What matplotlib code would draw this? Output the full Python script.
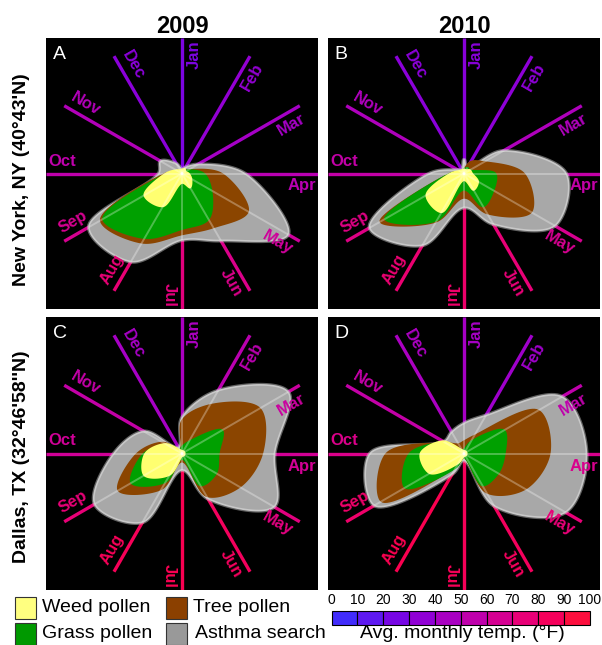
import numpy as np
import matplotlib
matplotlib.use('Agg')
import matplotlib.pyplot as plt
from matplotlib.patches import Polygon, Rectangle
from matplotlib.colors import LinearSegmentedColormap, Normalize

plt.rcParams['font.family'] = ['Liberation Sans', 'DejaVu Sans']

# ---------------- data ----------------
months = ['Jan', 'Feb', 'Mar', 'Apr', 'May', 'Jun', 'Jul', 'Aug', 'Sep', 'Oct', 'Nov', 'Dec']
years = ['2009', '2010']
cities = ["New York, NY (40°43'N)", "Dallas, TX (32°46'58''N)"]
panel_letters = ['A', 'B', 'C', 'D']
series_names = ['Weed pollen', 'Tree pollen', 'Grass pollen', 'Asthma search']
cbar_ticks = [0, 10, 20, 30, 40, 50, 60, 70, 80, 90, 100]
cbar_label = 'Avg. monthly temp. (°F)'

# average monthly temperature (°F), Jan..Dec
temp_A = [27, 36, 43, 52, 62, 68, 73, 76, 66, 55, 49, 33]
temp_B = [32, 34, 48, 57, 66, 75, 80, 77, 70, 57, 48, 33]
temp_C = [46, 53, 60, 64, 72, 84, 88, 86, 75, 63, 57, 44]
temp_D = [44, 41, 55, 67, 75, 84, 86, 89, 80, 68, 57, 46]

# normalized radial values (fraction of spoke length), Jan..Dec
asthma_A = [0.03, 0.05, 0.13, 0.46, 0.90, 0.57, 0.49, 0.75, 0.79, 0.17, 0.18, 0.08]
tree_A   = [0.02, 0.02, 0.05, 0.29, 0.56, 0.46, 0.45, 0.59, 0.69, 0.12, 0.03, 0.02]
grass_A  = [0.02, 0.02, 0.05, 0.16, 0.25, 0.39, 0.41, 0.55, 0.67, 0.10, 0.02, 0.02]
weed_A   = [0.03, 0.04, 0.03, 0.05, 0.08, 0.12, 0.07, 0.28, 0.32, 0.12, 0.05, 0.03]

asthma_B = [0.10, 0.05, 0.33, 0.75, 0.77, 0.43, 0.25, 0.61, 0.80, 0.25, 0.05, 0.03]
tree_B   = [0.03, 0.10, 0.17, 0.44, 0.57, 0.34, 0.18, 0.41, 0.71, 0.10, 0.03, 0.02]
grass_B  = [0.03, 0.05, 0.05, 0.23, 0.25, 0.28, 0.12, 0.40, 0.67, 0.10, 0.03, 0.02]
weed_B   = [0.03, 0.03, 0.05, 0.06, 0.12, 0.14, 0.05, 0.33, 0.32, 0.10, 0.04, 0.03]

asthma_C = [0.26, 0.53, 0.90, 0.68, 0.78, 0.38, 0.12, 0.58, 0.74, 0.50, 0.32, 0.05]
tree_C   = [0.24, 0.41, 0.66, 0.59, 0.49, 0.36, 0.06, 0.30, 0.54, 0.33, 0.16, 0.03]
grass_C  = [0.05, 0.10, 0.34, 0.27, 0.29, 0.27, 0.04, 0.24, 0.43, 0.28, 0.12, 0.03]
weed_C   = [0.02, 0.02, 0.02, 0.02, 0.02, 0.02, 0.02, 0.18, 0.32, 0.27, 0.14, 0.03]

asthma_D = [0.22, 0.32, 0.83, 0.90, 0.86, 0.44, 0.05, 0.17, 0.76, 0.69, 0.17, 0.18]
tree_D   = [0.09, 0.15, 0.63, 0.63, 0.52, 0.33, 0.03, 0.10, 0.70, 0.57, 0.15, 0.08]
grass_D  = [0.03, 0.10, 0.34, 0.30, 0.29, 0.27, 0.03, 0.12, 0.50, 0.40, 0.15, 0.03]
weed_D   = [0.02, 0.02, 0.02, 0.02, 0.02, 0.02, 0.02, 0.08, 0.29, 0.32, 0.18, 0.03]

panels = {
    'A': dict(temp=temp_A, asthma=asthma_A, tree=tree_A, grass=grass_A, weed=weed_A),
    'B': dict(temp=temp_B, asthma=asthma_B, tree=tree_B, grass=grass_B, weed=weed_B),
    'C': dict(temp=temp_C, asthma=asthma_C, tree=tree_C, grass=grass_C, weed=weed_C),
    'D': dict(temp=temp_D, asthma=asthma_D, tree=tree_D, grass=grass_D, weed=weed_D),
}

# ---------------- styles ----------------
temp_cmap = LinearSegmentedColormap.from_list('temp', [
    '#3333ff', '#5522f5', '#7008e8', '#8c00d8', '#a800c4',
    '#c000aa', '#d8008e', '#ec0070', '#fa0050', '#ff1a30'])
norm = Normalize(0, 100)
col_asthma = '#a8a8a8'
col_tree = '#8b4500'
col_grass = '#00a000'
col_weed = '#ffff70'

W, H = 602, 645
fig = plt.figure(figsize=(W / 100, H / 100), dpi=100)
fig.patch.set_facecolor('white')

boxes = {'A': (46, 38, 318, 309), 'B': (328, 38, 600, 309),
         'C': (46, 317, 318, 590), 'D': (328, 317, 600, 590)}


def px_axes(x0, y0, x1, y1):
    return fig.add_axes([x0 / W, 1 - y1 / H, (x1 - x0) / W, (y1 - y0) / H])


def catmull(pts, n=24):
    P = np.asarray(pts, float)
    N = len(P)
    out = []
    for i in range(N):
        p0, p1, p2, p3 = P[(i - 1) % N], P[i], P[(i + 1) % N], P[(i + 2) % N]

        def tj(ti, a, b):
            return ti + max(np.hypot(*(b - a)), 1e-6) ** 0.5
        t0 = 0.0
        t1 = tj(t0, p0, p1)
        t2 = tj(t1, p1, p2)
        t3 = tj(t2, p2, p3)
        t = np.linspace(t1, t2, n, endpoint=False)[:, None]
        A1 = (t1 - t) / (t1 - t0) * p0 + (t - t0) / (t1 - t0) * p1
        A2 = (t2 - t) / (t2 - t1) * p1 + (t - t1) / (t2 - t1) * p2
        A3 = (t3 - t) / (t3 - t2) * p2 + (t - t2) / (t3 - t2) * p3
        B1 = (t2 - t) / (t2 - t0) * A1 + (t - t0) / (t2 - t0) * A2
        B2 = (t3 - t) / (t3 - t1) * A2 + (t - t1) / (t3 - t1) * A3
        out.append((t2 - t) / (t2 - t1) * B1 + (t - t1) / (t2 - t1) * B2)
    return np.vstack(out)


theta = np.deg2rad(np.arange(12) * 30.0)
dirs = np.column_stack([np.sin(theta), np.cos(theta)])
perps = np.column_stack([np.cos(theta), -np.sin(theta)])

for letter, (x0, y0, x1, y1) in boxes.items():
    d = panels[letter]
    ax = px_axes(x0, y0, x1, y1)
    ax.set_xlim(-1, 1)
    ax.set_ylim(-1, 1)
    ax.set_facecolor('black')
    ax.set_xticks([])
    ax.set_yticks([])
    for s in ax.spines.values():
        s.set_visible(False)

    # coloured month spokes + labels
    for i, m in enumerate(months):
        c = temp_cmap(norm(d['temp'][i]))
        ax.plot([0, dirs[i, 0]], [0, dirs[i, 1]], color=c, lw=2.4,
                solid_capstyle='butt', zorder=1)
        rot = 90 - np.degrees(theta[i])
        if rot < -90:
            rot += 180
        rv = np.array([np.cos(np.radians(rot)), np.sin(np.radians(rot))])
        outward = np.dot(rv, dirs[i]) > 0
        pos = 0.985 * dirs[i] + 0.092 * perps[i]
        ax.text(pos[0], pos[1], m, color=c, fontsize=12, fontweight='bold',
                rotation=rot, rotation_mode='anchor',
                ha='right' if outward else 'left', va='center', zorder=8,
                clip_on=True)

    # filled radar shapes
    patches = {}
    for key, col, z in [('asthma', col_asthma, 3), ('tree', col_tree, 4),
                        ('grass', col_grass, 5), ('weed', col_weed, 6)]:
        v = np.asarray(d[key])
        pts = dirs * v[:, None]
        sm = catmull(pts)
        if key == 'asthma':
            glow = Polygon(sm, closed=True, facecolor='none', edgecolor='#d8d8d8',
                           lw=3.0, alpha=0.45, joinstyle='round', zorder=z)
            ax.add_patch(glow)
        ec = '#c8c8c8' if key == 'asthma' else col
        p = Polygon(sm, closed=True, facecolor=col, edgecolor=ec, lw=1.2,
                    joinstyle='round', zorder=z)
        ax.add_patch(p)
        patches[key] = p

    # faint white grid spokes inside shapes
    for i in range(12):
        ln, = ax.plot([0, dirs[i, 0]], [0, dirs[i, 1]], color='white',
                      alpha=0.3, lw=1.4, zorder=7)
        ln.set_clip_path(patches['asthma'])

    ax.text(0.024, 0.9225, letter, transform=ax.transAxes, color='white',
            fontsize=14, ha='left', va='baseline', zorder=10)

# titles and row labels
fig.text(182 / W, 1 - 26.5 / H, years[0], ha='center', va='center',
         fontsize=17, fontweight='bold')
fig.text(464 / W, 1 - 26.5 / H, years[1], ha='center', va='center',
         fontsize=17, fontweight='bold')
fig.text(22 / W, 1 - 180 / H, cities[0], rotation=90, ha='center',
         va='center', fontsize=14, fontweight='bold')
fig.text(22 / W, 1 - 457 / H, cities[1], rotation=90, ha='center',
         va='center', fontsize=14, fontweight='bold')

# legend + colour bar in pixel coordinates
ov = fig.add_axes([0, 0, 1, 1])
ov.set_xlim(0, W)
ov.set_ylim(H, 0)
ov.axis('off')
ov.patch.set_alpha(0)

leg = [(series_names[0], '#ffff80', 15, 597, 42, 608),
       (series_names[2], '#009900', 15, 623, 42, 634),
       (series_names[1], '#8b4000', 166, 597, 193, 608),
       (series_names[3], '#999999', 166, 623, 195, 634)]
for name, col, sx, sy, tx, ty in leg:
    ov.add_patch(Rectangle((sx, sy), 21, 22, facecolor=col, edgecolor='#333333',
                           lw=0.8))
    ov.text(tx, ty, name, fontsize=14, ha='left', va='center')

cb_x0, cb_x1, cb_y, cb_h = 331.5, 590, 611, 14
cw = (cb_x1 - cb_x0) / (len(cbar_ticks) - 1)
for k in range(len(cbar_ticks) - 1):
    mid = 0.5 * (cbar_ticks[k] + cbar_ticks[k + 1])
    ov.add_patch(Rectangle((cb_x0 + k * cw, cb_y), cw, cb_h,
                           facecolor=temp_cmap(norm(mid)), edgecolor='black',
                           lw=0.8))
for k, t in enumerate(cbar_ticks):
    ov.text(cb_x0 + k * cw, 600, str(t), fontsize=10, ha='center', va='center')
ov.text(462, 634, cbar_label, fontsize=14, ha='center', va='center')

fig.savefig('out.png', dpi=100)
